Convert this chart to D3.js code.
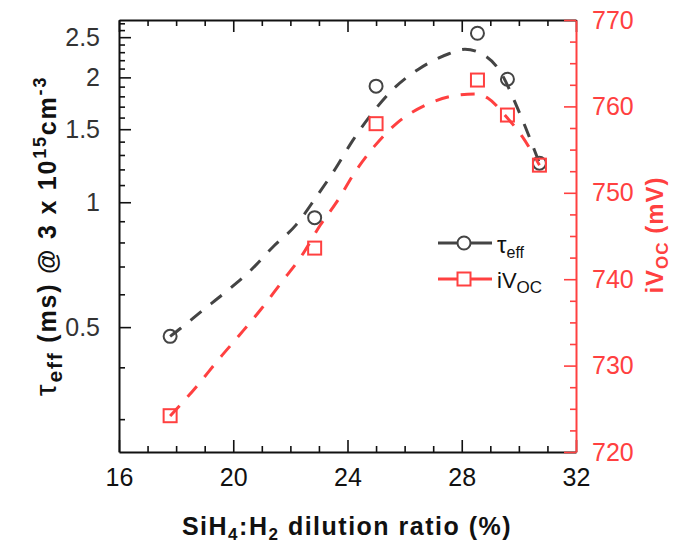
<!DOCTYPE html>
<html><head><meta charset="utf-8">
<script src="https://cdn.jsdelivr.net/npm/d3@7"></script>
<style>body{margin:0;background:#fff}svg{display:block}text{font-family:"Liberation Sans",Arial,sans-serif}</style>
</head><body>
<svg id="c" width="673" height="546"></svg>
<script>
// ---- data ----
const dilution = [17.79, 22.85, 25.0, 28.55, 29.6, 30.72];
const tauEff = [0.475, 0.918, 1.905, 2.555, 1.98, 1.242];
const iVoc = [724.2, 743.6, 758.0, 763.05, 759.0, 753.2];
const tauFitX = [17.79, 18.16, 18.92, 19.79, 20.57, 21.38, 22.2, 22.9, 23.57, 24.18, 24.86, 25.57, 26.5, 27.55, 28.11, 28.66, 29.35, 29.93, 30.43, 30.72];
const tauFitY = [0.475, 0.497, 0.548, 0.612, 0.681, 0.779, 0.882, 1.028, 1.203, 1.408, 1.638, 1.865, 2.096, 2.28, 2.338, 2.286, 2.064, 1.70, 1.40, 1.242];
const ivocFitX = [17.79, 18.71, 19.47, 20.22, 20.95, 21.68, 22.39, 23.05, 23.63, 24.27, 24.93, 25.72, 26.74, 27.9, 28.52, 28.92, 29.56, 30.12, 30.72];
const ivocFitY = [724.17, 727.56, 730.65, 733.54, 736.43, 739.6, 742.69, 746.27, 748.97, 752.44, 755.34, 758.04, 760.16, 761.32, 761.44, 760.94, 758.8, 756.5, 753.2];
const xTicks = [16, 20, 24, 28, 32];
const xMinor = [17, 18, 19, 21, 22, 23, 25, 26, 27, 29, 30, 31];
const yLTicks = [0.5, 1, 1.5, 2, 2.5];
const yLMinor = [0.3, 0.4, 0.6, 0.7, 0.8, 0.9, 1.1, 1.2, 1.3, 1.4, 1.6, 1.7, 1.8, 1.9, 2.1, 2.2, 2.3, 2.4, 2.6, 2.7];
const yRTicks = [720, 730, 740, 750, 760, 770];
const yRMinor = [722.5, 725, 727.5, 732.5, 735, 737.5, 742.5, 745, 747.5, 752.5, 755, 757.5, 762.5, 765, 767.5];

const BLACK = "#444", RED = "#ff4040";
const L = 119, R = 576, T = 20, B = 452;
const svg = d3.select("#c");
const x = d3.scaleLinear().domain([16, 32]).range([L, R]);
const yL = d3.scaleLog().domain([0.25, 2.75]).range([B, T]);
const yR = d3.scaleLinear().domain([720, 770]).range([B, T]);

function style(g, color, fs) {
  g.selectAll(".domain").attr("stroke", color).attr("stroke-width", 2);
  g.selectAll(".tick line").attr("stroke", color).attr("stroke-width", 1.6);
  g.selectAll(".tick text").attr("fill", color).style("font-size", fs + "px").style("font-family", "Liberation Sans, Arial, sans-serif");
}
// bottom
let g = svg.append("g").attr("transform", `translate(0,${B})`)
  .call(d3.axisBottom(x).tickValues(xTicks).tickFormat(d3.format("d")).tickSizeInner(-12).tickSizeOuter(0).tickPadding(16));
style(g, "#111", 25);
g = svg.append("g").attr("transform", `translate(0,${B})`)
  .call(d3.axisBottom(x).tickValues(xMinor).tickFormat("").tickSizeInner(-6).tickSizeOuter(0));
style(g, "#111", 25); g.select(".domain").remove();
// top
g = svg.append("g").attr("transform", `translate(0,${T})`)
  .call(d3.axisTop(x).tickValues(xTicks).tickFormat("").tickSizeInner(-12).tickSizeOuter(0));
style(g, "#111", 25);
g = svg.append("g").attr("transform", `translate(0,${T})`)
  .call(d3.axisTop(x).tickValues(xMinor).tickFormat("").tickSizeInner(-6).tickSizeOuter(0));
style(g, "#111", 25); g.select(".domain").remove();
// left
g = svg.append("g").attr("transform", `translate(${L},0)`)
  .call(d3.axisLeft(yL).tickValues(yLTicks).tickFormat(d3.format("")).tickSizeInner(-12).tickSizeOuter(0).tickPadding(19));
style(g, "#111", 25); g.selectAll(".tick text").attr("fill", "#333");
g = svg.append("g").attr("transform", `translate(${L},0)`)
  .call(d3.axisLeft(yL).tickValues(yLMinor).tickFormat("").tickSizeInner(-6).tickSizeOuter(0));
style(g, "#111", 25); g.select(".domain").remove();
// right
g = svg.append("g").attr("transform", `translate(${R},0)`)
  .call(d3.axisRight(yR).tickValues(yRTicks).tickFormat(d3.format("d")).tickSizeInner(-12).tickSizeOuter(0).tickPadding(16));
style(g, RED, 25);
g = svg.append("g").attr("transform", `translate(${R},0)`)
  .call(d3.axisRight(yR).tickValues(yRMinor).tickFormat("").tickSizeInner(-6).tickSizeOuter(0));
style(g, RED, 25); g.select(".domain").remove();

// fit curves
const tauFit = tauFitX.map((d, i) => [d, tauFitY[i]]);
const ivocFit = ivocFitX.map((d, i) => [d, ivocFitY[i]]);
svg.append("path").datum(tauFit)
  .attr("d", d3.line().x(d => x(d[0])).y(d => yL(d[1])).curve(d3.curveMonotoneX))
  .attr("fill", "none").attr("stroke", BLACK).attr("stroke-width", 3).attr("stroke-dasharray", "14,12");
svg.append("path").datum(ivocFit)
  .attr("d", d3.line().x(d => x(d[0])).y(d => yR(d[1])).curve(d3.curveMonotoneX))
  .attr("fill", "none").attr("stroke", RED).attr("stroke-width", 3).attr("stroke-dasharray", "14,12");

// markers
svg.append("g").selectAll("circle").data(dilution).join("circle")
  .attr("cx", d => x(d)).attr("cy", (d, i) => yL(tauEff[i])).attr("r", 6.5)
  .attr("fill", "none").attr("stroke", BLACK).attr("stroke-width", 2);
svg.append("g").selectAll("rect").data(dilution).join("rect")
  .attr("x", d => x(d) - 6.5).attr("y", (d, i) => yR(iVoc[i]) - 6.5).attr("width", 13).attr("height", 13)
  .attr("fill", "none").attr("stroke", RED).attr("stroke-width", 2);

// legend
const lg = svg.append("g");
lg.append("line").attr("x1", 438).attr("x2", 492).attr("y1", 243).attr("y2", 243).attr("stroke", BLACK).attr("stroke-width", 3);
lg.append("circle").attr("cx", 464).attr("cy", 243).attr("r", 6.5).attr("fill", "#fff").attr("stroke", BLACK).attr("stroke-width", 2);
lg.append("line").attr("x1", 438).attr("x2", 492).attr("y1", 279).attr("y2", 279).attr("stroke", RED).attr("stroke-width", 3);
lg.append("rect").attr("x", 457.5).attr("y", 272.5).attr("width", 13).attr("height", 13).attr("fill", "#fff").attr("stroke", RED).attr("stroke-width", 2);
let t = lg.append("text").attr("x", 497).attr("y", 253).attr("fill", "#111").style("font-size", "24px");
t.append("tspan").text("τ");
t.append("tspan").attr("dy", 5).style("font-size", "16px").text("eff");
t = lg.append("text").attr("x", 497).attr("y", 288).attr("fill", "#111").style("font-size", "22px");
t.append("tspan").text("iV");
t.append("tspan").attr("dy", 5).style("font-size", "17px").text("OC");

// axis titles
t = svg.append("text").attr("x", 347).attr("y", 535).attr("text-anchor", "middle")
  .attr("fill", "#111").style("font-size", "25px").style("font-weight", "bold").style("letter-spacing", "1.5px");
t.append("tspan").text("SiH");
t.append("tspan").attr("dy", 5).style("font-size", "17px").text("4");
t.append("tspan").attr("dy", -5).text(":H");
t.append("tspan").attr("dy", 5).style("font-size", "17px").text("2");
t.append("tspan").attr("dy", -5).text(" dilution ratio (%)");

t = svg.append("text").attr("transform", "translate(56,236) rotate(-90)").attr("text-anchor", "middle")
  .attr("fill", "#111").style("font-size", "25px").style("font-weight", "bold").style("letter-spacing", "1.8px");
t.append("tspan").style("font-weight", "normal").style("font-size", "30px").text("τ");
t.append("tspan").attr("dy", 6).style("font-size", "21px").text("eff");
t.append("tspan").attr("dy", -6).text(" (ms) @ 3 x 10");
t.append("tspan").attr("dy", -10).style("font-size", "18px").text("15");
t.append("tspan").attr("dy", 10).text("cm");
t.append("tspan").attr("dy", -10).style("font-size", "18px").text("-3");

t = svg.append("text").attr("transform", "translate(663,235) rotate(-90)").attr("text-anchor", "middle")
  .attr("fill", RED).style("font-size", "24px").style("font-weight", "bold").style("letter-spacing", "1px");
t.append("tspan").text("iV");
t.append("tspan").attr("dy", 5).style("font-size", "17px").text("OC");
t.append("tspan").attr("dy", -5).text(" (mV)");
</script>
</body></html>
